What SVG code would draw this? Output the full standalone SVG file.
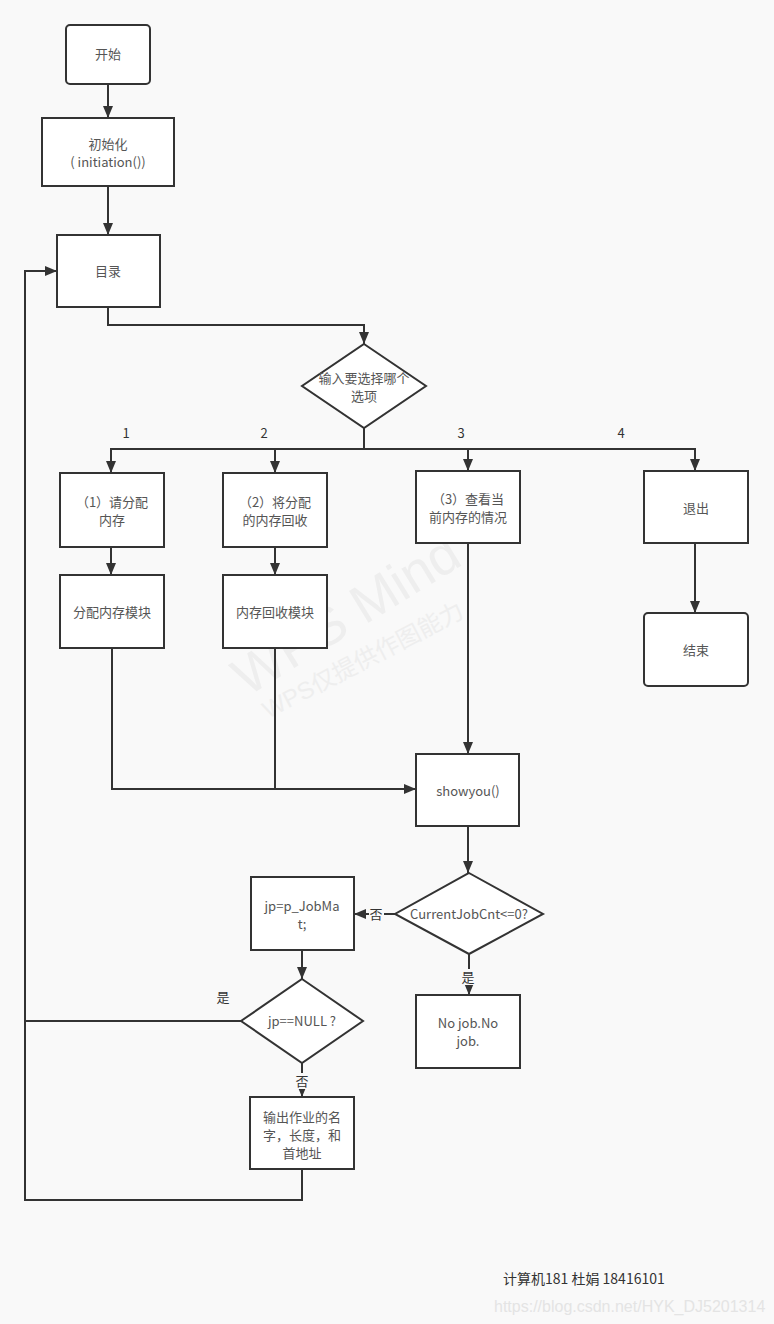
<svg xmlns="http://www.w3.org/2000/svg" width="774" height="1324" viewBox="0 0 774 1324">
<style>
.n{fill:#fff;stroke:#333;stroke-width:2}
.c{fill:none;stroke:#333;stroke-width:2}
.t{font-family:"Noto Sans CJK SC","Microsoft YaHei",sans-serif;font-size:13px;fill:#555;text-anchor:middle}
.l{font-family:"Noto Sans CJK SC",sans-serif;font-size:13px;fill:#333;text-anchor:middle}
.bg{fill:#f9f9f9}
.wm{font-family:"Liberation Sans","Noto Sans CJK SC",sans-serif;fill:#eeeeee}
</style>
<defs>
<marker id="a" markerUnits="userSpaceOnUse" markerWidth="12" markerHeight="12" refX="12" refY="5" orient="auto">
<path d="M0,0 L12,5 L0,10 z" fill="#333"/>
</marker>
</defs>
<rect width="774" height="1324" fill="#f9f9f9"/>
<g id="watermark">
<text class="wm" font-size="54" transform="translate(247,697) rotate(-31.5)">WPS Mind</text>
<text class="wm" font-size="24" transform="translate(268,719) rotate(-27.5)">WPS仅提供作图能力</text>
</g>
<g id="connectors">
<path class="c" d="M108,84 V118" marker-end="url(#a)"/>
<path class="c" d="M108,186 V235" marker-end="url(#a)"/>
<path class="c" d="M108,307 V325 H364 V344" marker-end="url(#a)"/>
<path class="c" d="M364,427 V449"/>
<path class="c" d="M364,449 H111 V473" marker-end="url(#a)"/>
<path class="c" d="M275,449 V473" marker-end="url(#a)"/>
<path class="c" d="M364,449 H695 V471" marker-end="url(#a)"/>
<path class="c" d="M468,449 V471" marker-end="url(#a)"/>
<path class="c" d="M111,547 V575" marker-end="url(#a)"/>
<path class="c" d="M275,547 V575" marker-end="url(#a)"/>
<path class="c" d="M112,648 V789 H416" marker-end="url(#a)"/>
<path class="c" d="M275,648 V789"/>
<path class="c" d="M468,543 V754" marker-end="url(#a)"/>
<path class="c" d="M695,543 V613" marker-end="url(#a)"/>
<path class="c" d="M468,826 V873" marker-end="url(#a)"/>
<path class="c" d="M395,914 H354" marker-end="url(#a)"/>
<path class="c" d="M469,954 V995" marker-end="url(#a)"/>
<path class="c" d="M302,950 V979" marker-end="url(#a)"/>
<path class="c" d="M241,1021 H25"/>
<path class="c" d="M302,1169 V1200 H25 V271 H57" marker-end="url(#a)"/>
<path class="c" d="M302,1063 V1097" marker-end="url(#a)"/>
<text class="l" x="126" y="438">1</text>
<text class="l" x="264" y="438">2</text>
<text class="l" x="461" y="438">3</text>
<text class="l" x="621" y="438">4</text>
<text class="l" x="223" y="1002">是</text>
<rect class="bg" x="369" y="906" width="15" height="16"/>
<text class="l" x="376" y="919">否</text>
<rect class="bg" x="461" y="969" width="15" height="16"/>
<text class="l" x="468" y="982">是</text>
<rect class="bg" x="295" y="1073" width="15" height="16"/>
<text class="l" x="302" y="1086">否</text>
</g>
<g id="start"><rect class="n" x="66" y="25" width="84" height="59" rx="4"/><text class="t" x="108" y="59">开始</text></g>
<g id="init"><rect class="n" x="42" y="118" width="132" height="68"/><text class="t" x="108" y="149">初始化</text><text class="t" x="108" y="167">( initiation())</text></g>
<g id="menu"><rect class="n" x="57" y="235" width="103" height="72"/><text class="t" x="108" y="276">目录</text></g>
<g id="choose"><polygon class="n" points="364,344 426,386 364,428 302,386"/><text class="t" x="364" y="383">输入要选择哪个</text><text class="t" x="364" y="401">选项</text></g>
<g id="opt1"><rect class="n" x="60" y="473" width="104" height="74"/><text class="t" x="112" y="507">（1）请分配</text><text class="t" x="112" y="525">内存</text></g>
<g id="opt2"><rect class="n" x="223" y="473" width="104" height="74"/><text class="t" x="275" y="507">（2）将分配</text><text class="t" x="275" y="525">的内存回收</text></g>
<g id="opt3"><rect class="n" x="416" y="471" width="104" height="72"/><text class="t" x="468" y="504">（3）查看当</text><text class="t" x="468" y="522">前内存的情况</text></g>
<g id="exit"><rect class="n" x="644" y="471" width="104" height="72"/><text class="t" x="696" y="513">退出</text></g>
<g id="end"><rect class="n" x="644" y="613" width="104" height="73" rx="4"/><text class="t" x="696" y="655">结束</text></g>
<g id="alloc"><rect class="n" x="60" y="575" width="104" height="73"/><text class="t" x="112" y="617">分配内存模块</text></g>
<g id="free"><rect class="n" x="223" y="575" width="104" height="73"/><text class="t" x="275" y="617">内存回收模块</text></g>
<g id="showyou"><rect class="n" x="416" y="754" width="103" height="72"/><text class="t" x="468" y="796">showyou()</text></g>
<g id="cnt"><polygon class="n" points="469,873 543,914 469,954 395,914"/><text class="t" x="469" y="919">CurrentJobCnt&lt;=0?</text></g>
<g id="nojob"><rect class="n" x="416" y="995" width="104" height="73"/><text class="t" x="468" y="1028">No job.No</text><text class="t" x="468" y="1046">job.</text></g>
<g id="jp"><rect class="n" x="251" y="877" width="103" height="73"/><text class="t" x="302" y="911">jp=p_JobMa</text><text class="t" x="302" y="929">t;</text></g>
<g id="isnull"><polygon class="n" points="302,979 363,1021 302,1063 241,1021"/><text class="t" x="302" y="1026">jp==NULL ?</text></g>
<g id="output"><rect class="n" x="250" y="1097" width="104" height="72"/><text class="t" x="302" y="1122">输出作业的名</text><text class="t" x="302" y="1140">字，长度，和</text><text class="t" x="302" y="1158">首地址</text></g>
<g id="footer">
<text x="503" y="1284" font-family="Noto Sans CJK SC,sans-serif" font-size="14" fill="#333">计算机181 杜娟 18416101</text>
<text x="494" y="1312" font-family="Liberation Sans,sans-serif" font-size="16" fill="#e4e4e4">https://blog.csdn.net/HYK_DJ5201314</text>
</g>
</svg>
